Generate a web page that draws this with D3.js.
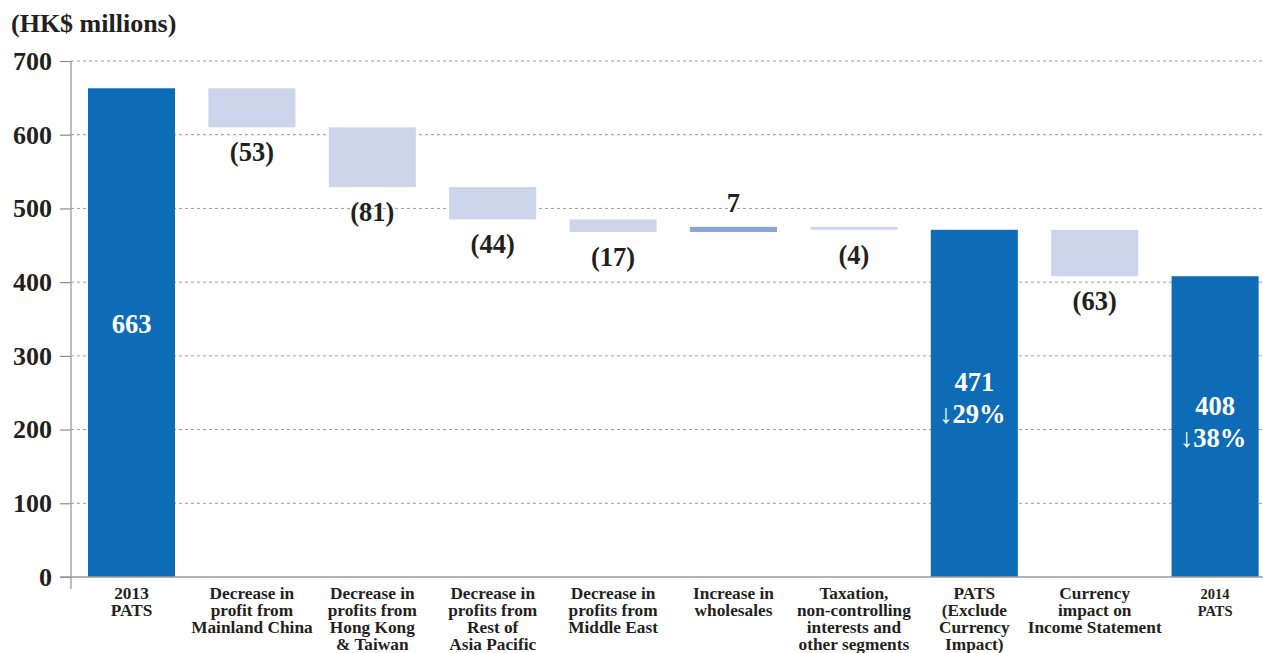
<!DOCTYPE html>
<html>
<head>
<meta charset="utf-8">
<script src="https://cdn.jsdelivr.net/npm/d3@7"></script>
<style>
  html, body { margin: 0; padding: 0; background: #fff; }
  svg { display: block; }
  text { font-family: "Liberation Serif", "Times New Roman", Times, "DejaVu Serif", serif; font-weight: bold; fill: #231f20; }
</style>
</head>
<body>
<svg id="chart" width="1263" height="653"></svg>
<script>
// Waterfall of profit attributable to shareholders (PATS), 2013 -> 2014
const categories = [
  ["2013", "PATS"],
  ["Decrease in", "profit from", "Mainland China"],
  ["Decrease in", "profits from", "Hong Kong", "& Taiwan"],
  ["Decrease in", "profits from", "Rest of", "Asia Pacific"],
  ["Decrease in", "profits from", "Middle East"],
  ["Increase in", "wholesales"],
  ["Taxation,", "non-controlling", "interests and", "other segments"],
  ["PATS", "(Exclude", "Currency", "Impact)"],
  ["Currency", "impact on", "Income Statement"],
  ["2014", "PATS"]
];
// "total" bars start at zero; "delta" bars float on the running total
const kinds  = ["total", "delta", "delta", "delta", "delta", "delta", "delta", "total", "delta", "total"];
const values = [663, -53, -81, -44, -17, 7, -4, 471, -63, 408];
const changeNotes = [null, null, null, null, null, null, null, "\u219329%", null, "\u219338%"];
const yTicks = [0, 100, 200, 300, 400, 500, 600, 700];

const svg = d3.select("#chart");
const yAxisX = 71;

const x = d3.scaleBand()
  .domain(d3.range(categories.length))
  .range([yAxisX, 1275.6])
  .paddingInner(0.277)
  .paddingOuter(0.141);

const y = d3.scaleLinear().domain([0, 700]).range([577, 61]);

// running totals
let run = 0;
const bars = values.map((v, i) => {
  let lo, hi;
  if (kinds[i] === "total") { run = v; lo = 0; hi = v; }
  else { const prev = run; run = prev + v; lo = Math.min(prev, run); hi = Math.max(prev, run); }
  return { i, v, kind: kinds[i], lo, hi, note: changeNotes[i] };
});

// dashed gridlines
svg.append("g")
  .selectAll("line")
  .data(yTicks.filter(t => t > 0))
  .join("line")
  .attr("x1", yAxisX).attr("x2", 1263)
  .attr("y1", d => y(d)).attr("y2", d => y(d))
  .attr("stroke", "#9a9a9a")
  .attr("stroke-width", 1)
  .attr("stroke-dasharray", "3,3");

// y axis
const yAxis = svg.append("g")
  .attr("transform", `translate(${yAxisX},0)`)
  .call(d3.axisLeft(y).tickValues(yTicks).tickSize(11).tickPadding(8).tickFormat(d3.format("d")));
yAxis.select(".domain").remove();
yAxis.selectAll(".tick line").attr("stroke", "#8c8c8c").attr("stroke-width", 1.2);
yAxis.attr("font-family", null).attr("font-size", null);
yAxis.selectAll(".tick text")
  .attr("font-size", 26)
  .attr("fill", "#231f20");

svg.append("line")
  .attr("x1", yAxisX).attr("x2", yAxisX)
  .attr("y1", 61).attr("y2", 589)
  .attr("stroke", "#9a9a9a").attr("stroke-width", 1.3);

// bars
svg.append("g")
  .selectAll("rect")
  .data(bars)
  .join("rect")
  .attr("x", d => x(d.i))
  .attr("width", x.bandwidth())
  .attr("y", d => y(d.hi))
  .attr("height", d => Math.max(1, y(d.lo) - y(d.hi)))
  .attr("fill", d => d.kind === "total" ? "#0e6cb6" : (d.v > 0 ? "#8aa5d5" : "#cdd5ec"));

// baseline
svg.append("line")
  .attr("x1", 60).attr("x2", 1263)
  .attr("y1", y(0)).attr("y2", y(0))
  .attr("stroke", "#9a9a9a").attr("stroke-width", 1.5);

// value labels
const fmtDelta = v => v < 0 ? `(${Math.abs(v)})` : `${v}`;
const labels = svg.append("g");
const valueSize = 26.5;
bars.forEach(d => {
  const cx = x(d.i) + x.bandwidth() / 2;
  if (d.kind === "total") {
    const mid = (y(d.lo) + y(d.hi)) / 2;
    if (d.note) {
      labels.append("text").attr("x", cx).attr("y", mid - 12)
        .attr("text-anchor", "middle").attr("font-size", valueSize).style("fill", "#fff")
        .text(d.v);
      labels.append("text").attr("x", cx - 2).attr("y", mid + 20)
        .attr("text-anchor", "middle").attr("font-size", valueSize).style("fill", "#fff")
        .text(d.note);
    } else {
      labels.append("text").attr("x", cx).attr("y", mid)
        .attr("text-anchor", "middle").attr("font-size", valueSize).style("fill", "#fff")
        .text(d.v);
    }
  } else if (d.v < 0) {
    labels.append("text").attr("x", cx).attr("y", y(d.lo) + 34)
      .attr("text-anchor", "middle").attr("font-size", valueSize)
      .text(fmtDelta(d.v));
  } else {
    labels.append("text").attr("x", cx).attr("y", y(d.hi) - 15)
      .attr("text-anchor", "middle").attr("font-size", valueSize)
      .text(fmtDelta(d.v));
  }
});

// category labels
const cat = svg.append("g");
categories.forEach((lines, i) => {
  const cx = x(i) + x.bandwidth() / 2;
  const small = i === categories.length - 1;
  const t = cat.append("text")
    .attr("text-anchor", "middle")
    .attr("font-size", small ? 14.5 : 17.3);
  lines.forEach((ln, k) => {
    t.append("tspan").attr("x", cx).attr("y", 599 + k * 17).text(ln);
  });
});

// unit caption
svg.append("text").attr("x", 11).attr("y", 32)
  .attr("font-size", 26)
  .text("(HK$ millions)");
</script>
</body>
</html>
